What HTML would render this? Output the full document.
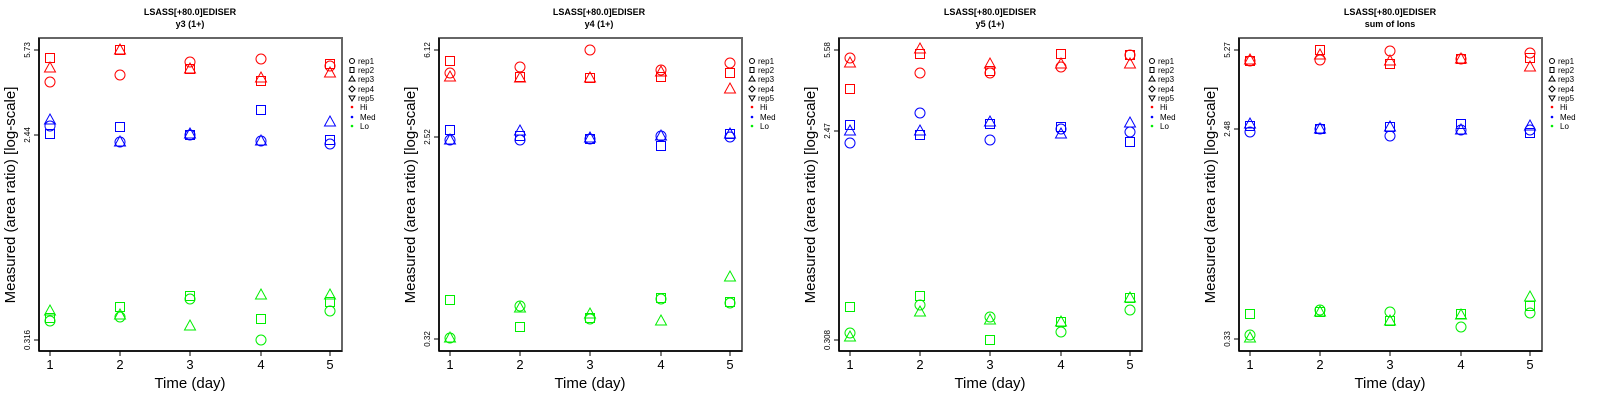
<!DOCTYPE html>
<html><head><meta charset="utf-8"><style>
html,body{margin:0;padding:0;background:#fff}
svg{display:block}
text{font-family:"Liberation Sans",sans-serif}
</style></head><body>
<svg id="s" width="1600" height="400" xmlns="http://www.w3.org/2000/svg">
<g id="p0" transform="translate(0,0)">
<text x="190" y="15" font-size="9" font-weight="bold" text-anchor="middle">LSASS[+80.0]EDISER</text>
<text x="190" y="27" font-size="9" font-weight="bold" text-anchor="middle">y3 (1+)</text>
<text transform="translate(30,50) rotate(-90)" font-size="8" text-anchor="middle">5.73</text>
<text transform="translate(30,135) rotate(-90)" font-size="8" text-anchor="middle">2.44</text>
<text transform="translate(30,340) rotate(-90)" font-size="8" text-anchor="middle">0.316</text>
</g>
<g id="p1" transform="translate(400,0)">
<text x="199" y="15" font-size="9" font-weight="bold" text-anchor="middle">LSASS[+80.0]EDISER</text>
<text x="199" y="27" font-size="9" font-weight="bold" text-anchor="middle">y4 (1+)</text>
<text transform="translate(30,50) rotate(-90)" font-size="8" text-anchor="middle">6.12</text>
<text transform="translate(30,137) rotate(-90)" font-size="8" text-anchor="middle">2.52</text>
<text transform="translate(30,339) rotate(-90)" font-size="8" text-anchor="middle">0.32</text>
</g>
<g id="p2" transform="translate(800,0)">
<text x="190" y="15" font-size="9" font-weight="bold" text-anchor="middle">LSASS[+80.0]EDISER</text>
<text x="190" y="27" font-size="9" font-weight="bold" text-anchor="middle">y5 (1+)</text>
<text transform="translate(30,50) rotate(-90)" font-size="8" text-anchor="middle">5.58</text>
<text transform="translate(30,131) rotate(-90)" font-size="8" text-anchor="middle">2.47</text>
<text transform="translate(30,340) rotate(-90)" font-size="8" text-anchor="middle">0.308</text>
</g>
<g id="p3" transform="translate(1200,0)">
<text x="190" y="15" font-size="9" font-weight="bold" text-anchor="middle">LSASS[+80.0]EDISER</text>
<text x="190" y="27" font-size="9" font-weight="bold" text-anchor="middle">sum of Ions</text>
<text transform="translate(30,50) rotate(-90)" font-size="8" text-anchor="middle">5.27</text>
<text transform="translate(30,129) rotate(-90)" font-size="8" text-anchor="middle">2.48</text>
<text transform="translate(30,339) rotate(-90)" font-size="8" text-anchor="middle">0.33</text>
</g>
<g id="common" font-size="8">
</g>
</svg>
<script>
var NS="http://www.w3.org/2000/svg";
function el(p,t,a){var e=document.createElementNS(NS,t);for(var k in a)e.setAttribute(k,a[k]);p.appendChild(e);return e;}
var xs=[50,120,190,261,330];
var ticks=[[50,135,340],[50,137,339],[50,131,340],[50,129,339]];
// [circle, square, triangle] per day, for Hi, Med, Lo
var D=[
 {Hi:[[82,58,68],[75,50,50],[62,69,69],[59,81,78],[66,64,73]],
  Med:[[126,134,120],[142,127,142],[135,135,134],[141,110,141],[144,140,122]],
  Lo:[[321,318,311],[317,307,315],[299,296,326],[340,319,295],[311,302,295]]},
 {Hi:[[73,61,77],[67,77,78],[50,78,78],[70,77,72],[63,73,89]],
  Med:[[140,130,140],[140,136,131],[139,139,138],[136,146,136],[137,134,134]],
  Lo:[[338,300,338],[306,327,308],[319,318,314],[299,298,321],[303,302,277]]},
 {Hi:[[58,89,63],[73,54,49],[73,71,64],[67,54,64],[55,55,64]],
  Med:[[143,125,131],[113,135,131],[140,124,122],[129,127,134],[132,142,123]],
  Lo:[[333,307,337],[305,296,312],[317,340,320],[332,322,322],[310,298,298]]},
 {Hi:[[61,61,60],[60,50,55],[51,64,61],[59,59,59],[53,58,67]],
  Med:[[132,126,124],[129,129,129],[136,127,127],[130,124,130],[130,133,126]],
  Lo:[[335,314,338],[310,312,312],[312,321,321],[327,314,315],[313,306,297]]}
];
var col={Hi:"#ff0000",Med:"#0000ff",Lo:"#00ee00"};
for(var p=0;p<4;p++){
 var g=document.getElementById("p"+p);
 el(g,"rect",{x:39,y:38,width:303,height:313,fill:"none",stroke:"#666",'stroke-width':2});
 el(g,"line",{x1:39,y1:38,x2:39,y2:351,stroke:"#000",'stroke-width':1.5});
 el(g,"line",{x1:39,y1:351,x2:342,y2:351,stroke:"#000",'stroke-width':1.5});
 xs.forEach(function(x,i){el(g,"line",{x1:x,y1:351,x2:x,y2:356,stroke:"#000"});
  var t=el(g,"text",{x:x,y:369,'font-size':13,'text-anchor':'middle'});t.textContent=String(i+1);});
 ticks[p].forEach(function(y){el(g,"line",{x1:34,y1:y,x2:39,y2:y,stroke:"#000"});});
 var t=el(g,"text",{x:190,y:388,'font-size':15,'text-anchor':'middle'});t.textContent="Time (day)";
 t=el(g,"text",{transform:"translate(15,195) rotate(-90)",'font-size':15,'text-anchor':'middle'});t.textContent="Measured (area ratio) [log-scale]";
 ["Hi","Med","Lo"].forEach(function(k){
  D[p][k].forEach(function(d,i){var x=xs[i],c=col[k];
   el(g,"circle",{cx:x,cy:d[0],r:5,fill:"none",stroke:c});
   el(g,"rect",{x:x-4.5,y:d[1]-4.5,width:9,height:9,fill:"none",stroke:c});
   var y=d[2];el(g,"polygon",{points:(x-5.5)+","+(y+4)+" "+(x+5.5)+","+(y+4)+" "+x+","+(y-6),fill:"none",stroke:c});
  });
 });
 // legend
 var lx=352,ly=[61,70,79,89,98,107,117,126],labs=["rep1","rep2","rep3","rep4","rep5","Hi","Med","Lo"];
 el(g,"circle",{cx:lx,cy:ly[0],r:2.5,fill:"none",stroke:"#000"});
 el(g,"rect",{x:lx-2,y:ly[1]-2.5,width:4,height:5,fill:"none",stroke:"#000"});
 el(g,"polygon",{points:(lx-3)+","+(ly[2]+2)+" "+(lx+3)+","+(ly[2]+2)+" "+lx+","+(ly[2]-3),fill:"none",stroke:"#000"});
 el(g,"polygon",{points:(lx-3)+","+ly[3]+" "+lx+","+(ly[3]-3)+" "+(lx+3)+","+ly[3]+" "+lx+","+(ly[3]+3),fill:"none",stroke:"#000"});
 el(g,"polygon",{points:(lx-3)+","+(ly[4]-2)+" "+(lx+3)+","+(ly[4]-2)+" "+lx+","+(ly[4]+3),fill:"none",stroke:"#000"});
 el(g,"circle",{cx:lx,cy:ly[5],r:1.3,fill:"#f00"});
 el(g,"circle",{cx:lx,cy:ly[6],r:1.3,fill:"#00f"});
 el(g,"circle",{cx:lx,cy:ly[7],r:1.3,fill:"#0e0"});
 labs.forEach(function(l,i){var tt=el(g,"text",{x:i<5?358:360,y:ly[i]+3,'font-size':8});tt.textContent=l;});
}
</script>
</body></html>
